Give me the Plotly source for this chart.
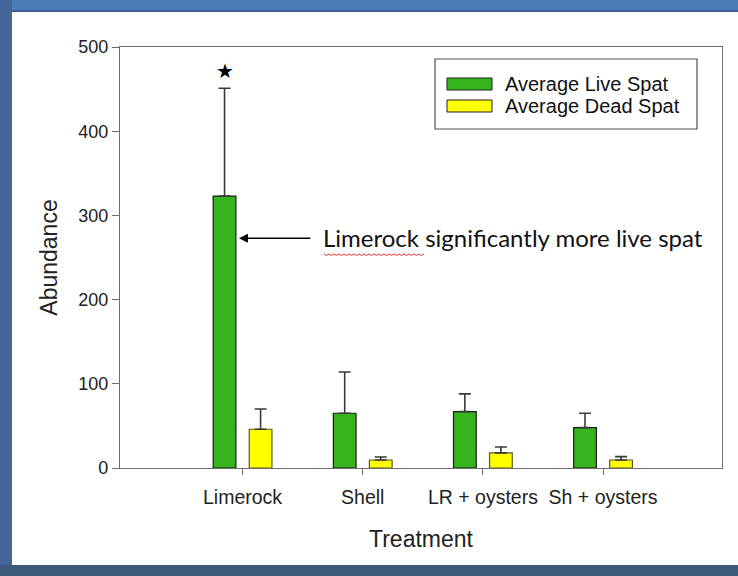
import plotly.graph_objects as go

# ---- data ----
categories = ["Limerock", "Shell", "LR + oysters", "Sh + oysters"]
series_names = ["Average Live Spat", "Average Dead Spat"]
live_mean = [323, 65, 67, 48]
live_err = [128, 49, 21, 17]
dead_mean = [46, 9.5, 18, 9.5]
dead_err = [24, 3.5, 7, 4]
y_ticks = [0, 100, 200, 300, 400, 500]
note_text = "Limerock significantly more live spat"
star_value = 472
arrow_target_value = 273

# ---- layout geometry (pixels) ----
W, H = 738, 576
L, R, T, B = 120, 16, 47, 108
PW, PH = W - L - R, H - T - B

def px(x):
    return (x - L) / PW

def py(y):
    return (H - B - y) / PH

GREEN = "#36b41e"
YELLOW = "#ffff00"
AXIS = "#6e6e6e"
FONT = "Liberation Sans, Arial, sans-serif"

fig = go.Figure()
fig.add_trace(go.Bar(
    x=categories, y=live_mean, name=series_names[0],
    marker=dict(color=GREEN, line=dict(color="#1a1a1a", width=1.2)),
    error_y=dict(type="data", symmetric=False, array=live_err,
                 arrayminus=[0] * len(live_err), color="#3a3a3a",
                 thickness=1.6, width=6),
    showlegend=False,
))
fig.add_trace(go.Bar(
    x=categories, y=dead_mean, name=series_names[1],
    marker=dict(color=YELLOW, line=dict(color="#5a5a20", width=1.2)),
    error_y=dict(type="data", symmetric=False, array=dead_err,
                 arrayminus=[0] * len(dead_err), color="#3a3a3a",
                 thickness=1.6, width=6),
    showlegend=False,
))

shapes = []
annotations = []

# page frame (slide border)
shapes.append(dict(type="rect", xref="paper", yref="paper",
                   x0=px(0), x1=px(W), y0=py(11), y1=py(0),
                   fillcolor="#4b7cb6", line=dict(width=0), layer="above"))
shapes.append(dict(type="rect", xref="paper", yref="paper",
                   x0=px(0), x1=px(W), y0=py(12), y1=py(10),
                   fillcolor="#3a5f92", line=dict(width=0), layer="above"))
shapes.append(dict(type="rect", xref="paper", yref="paper",
                   x0=px(0), x1=px(12), y0=py(H), y1=py(0),
                   fillcolor="#44679a", line=dict(width=0), layer="above"))
shapes.append(dict(type="rect", xref="paper", yref="paper",
                   x0=px(0), x1=px(W), y0=py(H), y1=py(565),
                   fillcolor="#3c5a7c", line=dict(width=0), layer="above"))

# legend (custom box)
shapes.append(dict(type="rect", xref="paper", yref="paper",
                   x0=px(435), x1=px(697), y0=py(129), y1=py(59),
                   fillcolor="white", line=dict(color="#505050", width=1.2)))
for i, (name, col) in enumerate(zip(series_names, [GREEN, YELLOW])):
    yc = 84 + 22 * i
    shapes.append(dict(type="rect", xref="paper", yref="paper",
                       x0=px(447), x1=px(492), y0=py(yc + 6), y1=py(yc - 6),
                       fillcolor=col, line=dict(color="#202020", width=1)))
    annotations.append(dict(xref="paper", yref="paper", x=px(503), y=py(yc),
                            xanchor="left", yanchor="middle", showarrow=False,
                            text=name, font=dict(family=FONT, size=20, color="#111111")))

# star above Limerock live bar
annotations.append(dict(x=categories[0], y=star_value, xref="x", yref="y",
                        xshift=-18, text="★", showarrow=False,
                        font=dict(size=20, color="black")))

# arrow to Limerock bar
annotations.append(dict(x=-0.03, y=arrow_target_value, xref="x", yref="y",
                        ax=73, ay=0, text="", showarrow=True,
                        arrowhead=2, arrowsize=1.2, arrowwidth=1.5, arrowcolor="black"))
annotations.append(dict(xref="paper", yref="paper", x=px(321), y=py(238),
                        xanchor="left", yanchor="middle", showarrow=False,
                        text=note_text,
                        font=dict(family="Lato, Open Sans, sans-serif", size=24, color="#111111")))

# red spell-check squiggle under "Limerock"
path = "M {} {}".format(px(324), py(254))
xs = 324
k = 0
while xs < 422:
    xs += 2.5
    k += 1
    path += " L {} {}".format(px(xs), py(254 + (1.5 if k % 2 else 0)))
shapes.append(dict(type="path", xref="paper", yref="paper", path=path,
                   line=dict(color="#e03030", width=1)))

fig.update_layout(
    width=W, height=H,
    margin=dict(l=L, r=R, t=T, b=B, pad=0),
    paper_bgcolor="white", plot_bgcolor="white",
    barmode="group", bargap=0.4, bargroupgap=0.37,
    font=dict(family=FONT, color="#222222"),
    shapes=shapes, annotations=annotations,
    showlegend=False,
)
fig.update_xaxes(
    type="category", range=[-1.02, 3.99],
    showline=True, linecolor=AXIS, linewidth=1.2, mirror=True,
    ticks="outside", ticklen=6, tickcolor=AXIS, showgrid=False,
    ticklabelstandoff=5,
    tickfont=dict(size=19.5, family=FONT, color="#222222"),
    title=dict(text="Treatment", font=dict(size=23, family=FONT, color="#222222"), standoff=24),
)
fig.update_yaxes(
    range=[0, 500], tickvals=y_ticks,
    showline=True, linecolor=AXIS, linewidth=1.2, mirror=True,
    ticks="outside", ticklen=7, tickcolor=AXIS, showgrid=False, zeroline=False,
    tickfont=dict(size=18, family=FONT, color="#222222"),
    title=dict(text="Abundance", font=dict(size=23, family=FONT, color="#222222"), standoff=14),
)

fig.write_html("out.html", config={"displayModeBar": False},
               post_script="document.body.style.margin='0';")
